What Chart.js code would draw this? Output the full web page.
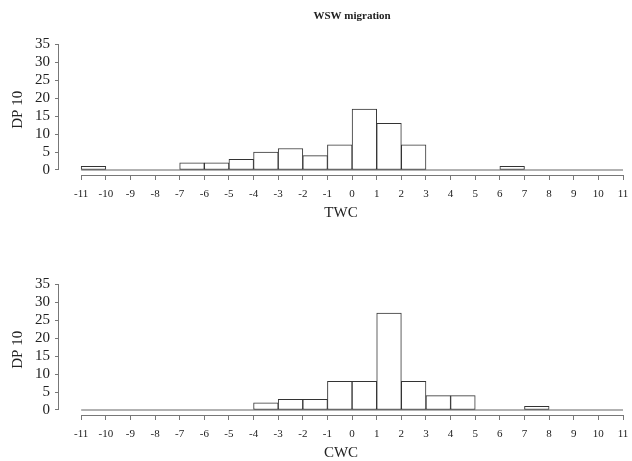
<!DOCTYPE html>
<html>
<head>
<meta charset="utf-8">
<script src="https://cdn.jsdelivr.net/npm/chart.js@4/dist/chart.umd.min.js"></script>
<style>
  body { margin: 0; background: #fff; }
  canvas { position: absolute; left: 0; }
  #twc { top: 0; }
  #cwc { top: 240px; }
</style>
</head>
<body>
<canvas id="twc" width="632" height="221"></canvas>
<canvas id="cwc" width="632" height="221"></canvas>
<script>
// histogram bins, one unit wide, -11 .. 11
const binCenters = [-10.5, -9.5, -8.5, -7.5, -6.5, -5.5, -4.5, -3.5, -2.5, -1.5, -0.5,
                    0.5, 1.5, 2.5, 3.5, 4.5, 5.5, 6.5, 7.5, 8.5, 9.5, 10.5];
const twcCounts = [1, 0, 0, 0, 2, 2, 3, 5, 6, 4, 7, 17, 13, 7, 0, 0, 0, 1, 0, 0, 0, 0];
const cwcCounts = [0, 0, 0, 0, 0, 0, 0, 2, 3, 3, 8, 8, 27, 8, 4, 4, 0, 0, 1, 0, 0, 0];
const xTicks = [-11, -10, -9, -8, -7, -6, -5, -4, -3, -2, -1, 0, 1, 2, 3, 4, 5, 6, 7, 8, 9, 10, 11];
const yTicks = [0, 5, 10, 15, 20, 25, 30, 35];

const serif = "'Liberation Serif', 'Times New Roman', serif";
const ink = '#222';
const axisGrey = '#777';

// R style axes: detached from the plot, only as long as the tick range
function rAxes(titleText) {
    return {
        id: 'rAxes',
        beforeDatasetsDraw(chart) {
            const {ctx, scales: {x, y}} = chart;
            const y0 = y.getPixelForValue(0);
            ctx.save();
            ctx.strokeStyle = '#999';
            ctx.lineWidth = 1.5;
            ctx.beginPath();
            ctx.moveTo(x.getPixelForValue(xTicks[0]), y0);
            ctx.lineTo(x.getPixelForValue(xTicks[xTicks.length - 1]), y0);
            ctx.stroke();
            ctx.restore();
        },
        afterDraw(chart) {
            const {ctx, chartArea, scales: {x, y}} = chart;
            ctx.save();
            ctx.strokeStyle = axisGrey;
            ctx.lineWidth = 1;
            ctx.beginPath();
            ctx.moveTo(x.getPixelForValue(xTicks[0]), chartArea.bottom + 0.5);
            ctx.lineTo(x.getPixelForValue(xTicks[xTicks.length - 1]), chartArea.bottom + 0.5);
            ctx.moveTo(chartArea.left - 0.5, y.getPixelForValue(yTicks[0]));
            ctx.lineTo(chartArea.left - 0.5, y.getPixelForValue(yTicks[yTicks.length - 1]));
            ctx.stroke();
            if (titleText) {
                ctx.fillStyle = ink;
                ctx.font = 'bold 11px ' + serif;
                ctx.textAlign = 'center';
                ctx.textBaseline = 'middle';
                ctx.fillText(titleText, x.getPixelForValue(0), 16);
            }
            ctx.restore();
        }
    };
}

function makeHist(id, counts, xLabel, titleText) {
    return new Chart(document.getElementById(id), {
        type: 'bar',
        data: {
            datasets: [{
                data: binCenters.map((c, i) => ({x: c, y: counts[i]})),
                backgroundColor: '#fff',
                borderColor: '#333',
                borderWidth: 1,
                borderSkipped: false,
                barPercentage: 1,
                categoryPercentage: 1,
            }]
        },
        options: {
            responsive: false,
            animation: false,
            devicePixelRatio: 1,
            layout: {
                padding: {top: 44.5, right: 9, left: 0, bottom: 0}
            },
            plugins: {
                legend: {display: false},
                tooltip: {enabled: false},
            },
            scales: {
                x: {
                    type: 'linear',
                    min: -11.9,
                    max: 11,
                    offset: false,
                    afterBuildTicks: s => { s.ticks = xTicks.map(v => ({value: v})); },
                    afterFit: s => { s.height = 46; s.paddingRight = 0; s.paddingLeft = 0; },
                    border: {display: false},
                    grid: {offset: false, drawOnChartArea: false, drawTicks: true, tickLength: 5, color: axisGrey},
                    ticks: {
                        font: {family: serif, size: 11},
                        color: ink,
                        padding: 8,
                        autoSkip: false,
                        maxRotation: 0,
                    },
                    title: {
                        display: true,
                        text: xLabel,
                        color: ink,
                        font: {family: serif, size: 15, lineHeight: 1},
                        padding: {top: 0, bottom: 0},
                    }
                },
                y: {
                    min: -1.4,
                    max: 35,
                    afterBuildTicks: s => { s.ticks = yTicks.map(v => ({value: v})); },
                    afterFit: s => { s.width = 59; },
                    border: {display: false},
                    grid: {drawOnChartArea: false, drawTicks: true, tickLength: 4, color: axisGrey},
                    ticks: {
                        font: {family: serif, size: 15, lineHeight: 1},
                        color: ink,
                        padding: 5,
                        autoSkip: false,
                    },
                    title: {
                        display: true,
                        text: 'DP 10',
                        color: ink,
                        font: {family: serif, size: 15, lineHeight: 1},
                        padding: {top: 11, bottom: 0},
                    }
                }
            }
        },
        plugins: [rAxes(titleText)]
    });
}

makeHist('twc', twcCounts, 'TWC', 'WSW migration');
makeHist('cwc', cwcCounts, 'CWC', null);
</script>
</body>
</html>
